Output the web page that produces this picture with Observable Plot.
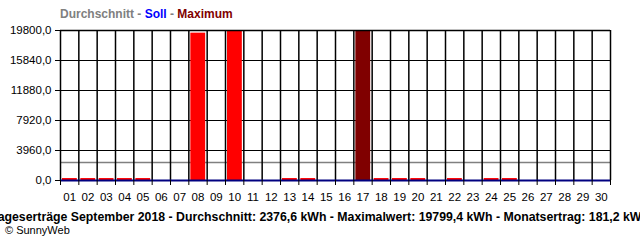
<!DOCTYPE html>
<html><head><meta charset="utf-8">
<script src="https://cdn.jsdelivr.net/npm/d3@7"></script>
<script src="https://cdn.jsdelivr.net/npm/@observablehq/plot@0.6"></script>
<style>
html,body{margin:0;padding:0;background:#fff;width:640px;height:240px;overflow:hidden;font-family:"Liberation Sans",Arial,sans-serif;}
#title{position:relative;height:24px;}
#title span.t{position:absolute;left:60px;top:7px;font-weight:bold;font-size:12px;line-height:14px;white-space:nowrap;}
#chart{height:186px;}
#cap{display:flex;justify-content:center;overflow:hidden;width:640px;height:14px;white-space:nowrap;font-weight:bold;font-size:12.3px;line-height:14px;}
#copy{font-size:11px;line-height:13px;padding-left:5px;margin-top:0px;}
</style></head>
<body>
<div id="title"><span class="t"><span style="color:#808080">Durchschnitt - </span><span style="color:#0000ff">Soll</span><span style="color:#808080"> - </span><span style="color:#800000">Maximum</span></span></div>
<div id="chart"></div>
<div id="cap"><span>Tageserträge September 2018 - Durchschnitt: 2376,6 kWh - Maximalwert: 19799,4 kWh - Monatsertrag: 181,2 kWh</span></div>
<div id="copy">© SunnyWeb</div>
<script>
const days = ["01","02","03","04","05","06","07","08","09","10","11","12","13","14","15","16","17","18","19","20","21","22","23","24","25","26","27","28","29","30"];
const values = [260,260,260,260,260,0,0,19450,0,19800,0,0,260,260,0,0,19799.4,260,260,260,0,260,0,260,260,0,0,0,0,0];
const maxDay = "17";
const average = 2376.6;
const soll = 0;
const yTicks = [0,3960,7920,11880,15840,19800];

const data = days.map((d,i)=>({day:d, i, value:values[i], isMax: d===maxDay}));
const boundaries = d3.range(0, days.length+1);
const centers = days.map((d,i)=>i+0.5);
const fmt = v => v.toFixed(1).replace(".", ",");

const plot = Plot.plot({
  width: 640, height: 186,
  marginTop: 6, marginBottom: 30, marginLeft: 60, marginRight: 30,
  style: {fontFamily: '"Liberation Sans", Arial, sans-serif', fontSize: "11px", background: "#fff", color: "#000"},
  x: {type: "linear", domain: [0, days.length]},
  y: {domain: [0, 19800]},
  marks: [
    Plot.ruleY(yTicks.filter(v=>v>0), {stroke: "#000", strokeWidth: 1}),
    Plot.ruleY([average], {stroke: "#808080", strokeWidth: 1.5}),
    Plot.ruleX(boundaries, {stroke: "#000", strokeWidth: 1.5, y1: 0, y2: 19800}),
    Plot.rectY(data, {x1: "i", x2: d=>d.i+1, y1: 0, y2: "value", fill: d=>d.isMax ? "#800000" : "#ff0000", insetLeft: 2, insetRight: 1.5}),
    Plot.ruleY([19800], {stroke: "#000", strokeWidth: 1.5}),
    Plot.ruleY([soll], {stroke: "#000080", strokeWidth: 2}),
    Plot.axisY({ticks: yTicks, tickSize: 5, tickPadding: 4, tickFormat: fmt, fontSize: 11.5, label: null}),
    Plot.axisX({ticks: boundaries, tickSize: 5, tickFormat: () => "", label: null}),
    Plot.axisX({ticks: centers, tickSize: 0, tickPadding: 12, tickFormat: v => days[Math.floor(v)], fontSize: 11.5, label: null})
  ]
});
document.getElementById("chart").appendChild(plot);
</script>
</body></html>
